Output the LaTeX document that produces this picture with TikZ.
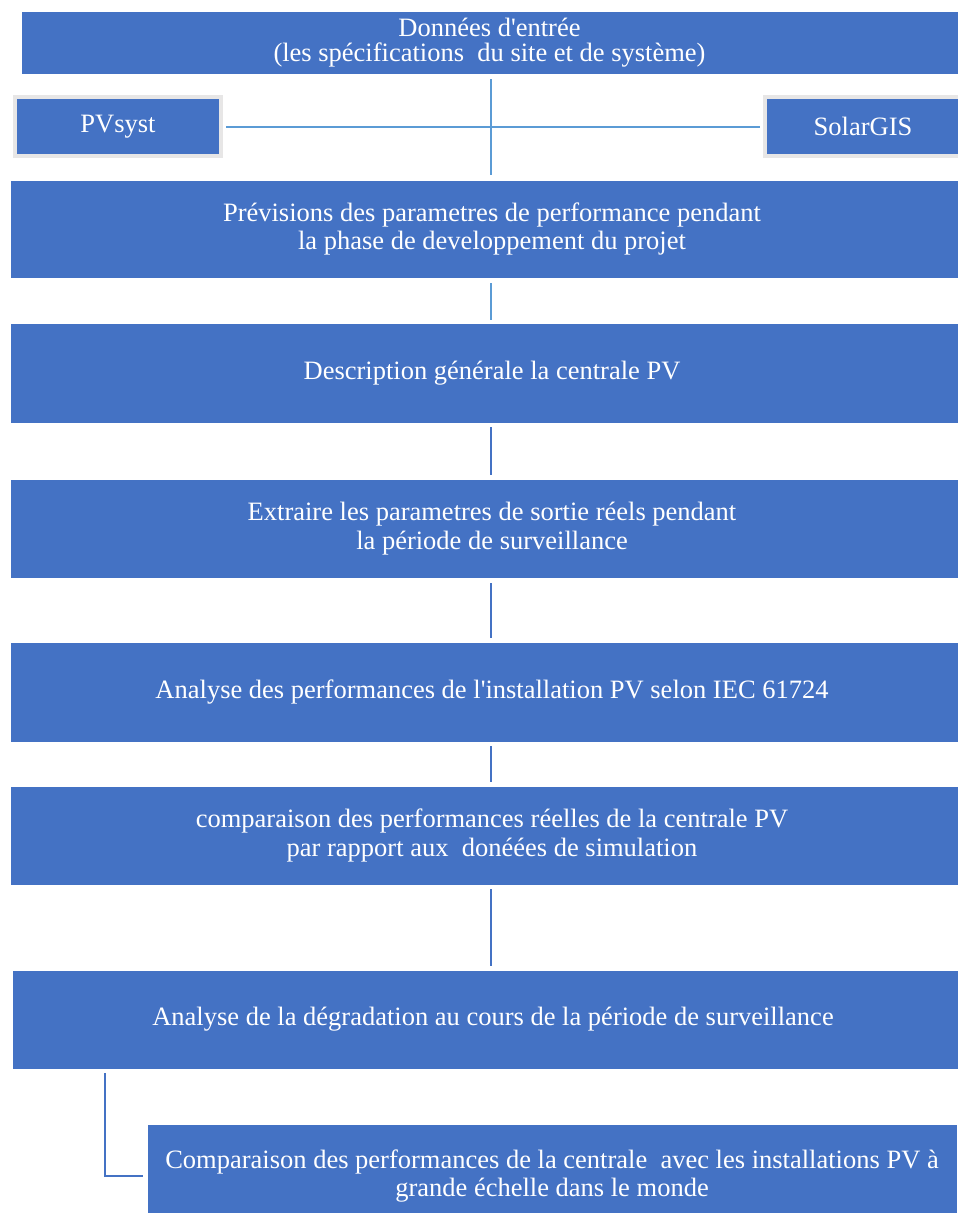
\documentclass[tikz,border=0pt]{standalone}
\usepackage{fontspec}
\setmainfont{Liberation Serif}
\usetikzlibrary{calc}
\definecolor{boxblue}{HTML}{4472C4}
\definecolor{linkblue}{HTML}{5B9BD5}
\definecolor{framegray}{HTML}{E7E6E6}
\newcommand{\apos}{\textquotesingle}
\begin{document}
\begin{tikzpicture}[x=1pt,y=-1pt,
  stage/.style={rectangle, fill=boxblue, draw=white, line width=0.6pt,
    text=white, align=center, inner sep=0pt,
    font=\fontsize{26.5}{28.5}\selectfont},
  tool/.style={stage, draw=framegray, line width=4pt},
  flow/.style={draw=boxblue, line width=2.2pt},
  feed/.style={draw=linkblue, line width=2pt}]
\clip (0,0) rectangle (958,1213);
\fill[white] (0,0) rectangle (958,1213);

% main column of stages
\node[stage, minimum width=937pt, minimum height=63pt,
  font=\fontsize{26.5}{25}\selectfont] (input) at (489.5,42.5)
  {Données d\apos entrée\\(les spécifications~ du site et de système)};
\node[tool, minimum width=206pt, minimum height=59pt] (pvsyst) at (118,126.5) {PVsyst};
\node[tool, minimum width=196pt, minimum height=59pt] (solargis) at (863,126.5) {SolarGIS};
\node[stage, minimum width=964pt, minimum height=98pt] (forecast) at (492,229)
  {Prévisions des parametres de performance pendant\\ la phase de developpement du projet};
\node[stage, minimum width=964pt, minimum height=100pt] (descr) at (492,373)
  {Description générale la centrale PV};
\node[stage, minimum width=964pt, minimum height=99pt] (extract) at (492,528.5)
  {Extraire les parametres de sortie réels pendant\\ la période de surveillance};
\node[stage, minimum width=964pt, minimum height=100pt] (iec) at (492,692)
  {Analyse des performances de l\apos installation PV selon IEC 61724};
\node[stage, minimum width=964pt, minimum height=99pt] (compare) at (492,835.5)
  {comparaison des performances réelles de la centrale PV\\par rapport aux~ donéées de simulation};
\node[stage, minimum width=962pt, minimum height=99pt] (degrad) at (493,1019.5)
  {Analyse de la dégradation au cours de la période de surveillance};
\node[stage, minimum width=810pt, minimum height=104pt] (world) at (552,1176)
  {Comparaison des performances de la centrale~ avec les installations PV à\\grande échelle dans le monde};

% connectors
\coordinate (axis) at (491,0);
\coordinate (elbow) at (105,0);
\draw[feed, shorten <=5pt, shorten >=5pt] (input.south -| axis) -- (forecast.north -| axis);
\draw[feed, shorten <=3pt, shorten >=3pt] (pvsyst.east) -- (solargis.west);
\draw[feed, shorten <=5pt, shorten >=3pt] (forecast.south -| axis) -- (descr.north -| axis);
\draw[flow, shorten <=4pt, shorten >=4pt] (descr.south -| axis) -- (extract.north -| axis);
\draw[flow, shorten <=5pt, shorten >=4pt] (extract.south -| axis) -- (iec.north -| axis);
\draw[flow, shorten <=4pt, shorten >=4pt] (iec.south -| axis) -- (compare.north -| axis);
\draw[flow, shorten <=4pt, shorten >=4pt] (compare.south -| axis) -- (degrad.north -| axis);
\draw[flow, shorten <=4pt, shorten >=4pt] (degrad.south -| elbow) |- (world.west);
\end{tikzpicture}
\end{document}
